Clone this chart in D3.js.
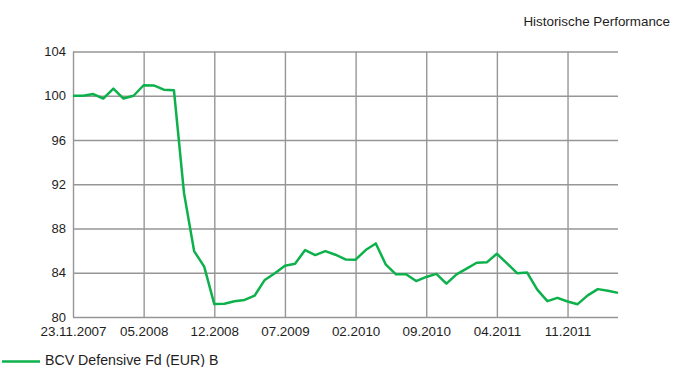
<!DOCTYPE html>
<html>
<head>
<meta charset="utf-8">
<script src="https://cdn.jsdelivr.net/npm/d3@7"></script>
<style>
  html, body { margin: 0; padding: 0; background: #fff; }
  svg { display: block; font-family: "Liberation Sans", Arial, sans-serif; }
</style>
</head>
<body>
<svg id="chart" width="681" height="367"></svg>
<script>
// Month-end observation dates (first point is the launch date)
const dates = [
  "23.11.2007", "11.2007", "12.2007", "01.2008", "02.2008", "03.2008", "04.2008",
  "05.2008", "06.2008", "07.2008", "08.2008", "09.2008", "10.2008", "11.2008",
  "12.2008", "01.2009", "02.2009", "03.2009", "04.2009", "05.2009", "06.2009",
  "07.2009", "08.2009", "09.2009", "10.2009", "11.2009", "12.2009", "01.2010",
  "02.2010", "03.2010", "04.2010", "05.2010", "06.2010", "07.2010", "08.2010",
  "09.2010", "10.2010", "11.2010", "12.2010", "01.2011", "02.2011", "03.2011",
  "04.2011", "05.2011", "06.2011", "07.2011", "08.2011", "09.2011", "10.2011",
  "11.2011", "12.2011", "01.2012", "02.2012", "03.2012", "04.2012"
];

// Indexed performance (start = 100)
const performance = [
  100.0, 100.0, 100.15, 99.75, 100.65, 99.75, 100.0,
  100.95, 100.93, 100.55, 100.5, 91.2, 85.96, 84.55,
  81.17, 81.2, 81.42, 81.54, 81.93, 83.35, 83.95,
  84.64, 84.82, 86.05, 85.6, 85.96, 85.63, 85.2,
  85.18, 86.05, 86.65, 84.73, 83.86, 83.86, 83.25,
  83.62, 83.9, 83.02, 83.86, 84.37, 84.9, 84.94,
  85.72, 84.85, 83.96, 84.02, 82.47, 81.43, 81.73,
  81.4, 81.16, 81.95, 82.52, 82.38, 82.18
];

const yTicks = [80, 84, 88, 92, 96, 100, 104];
const xTickLabels = ["23.11.2007", "05.2008", "12.2008", "07.2009", "02.2010", "09.2010", "04.2011", "11.2011"];
const seriesName = "BCV Defensive Fd (EUR) B";
const chartTitle = "Historische Performance";

const svg = d3.select("#chart");
const lineColor = "#0db14b";
const gridColor = "#969696";

const plotLeft = 73, plotRight = 618, plotTop = 51.5, plotBottom = 317;

const x = d3.scalePoint().domain(dates).range([plotLeft, plotRight]);
const y = d3.scaleLinear().domain([80, 104]).range([plotBottom, plotTop]);

// Horizontal grid + y labels
const yAxis = d3.axisLeft(y).tickValues(yTicks).tickSize(-(plotRight - plotLeft)).tickPadding(7);
const gy = svg.append("g").attr("transform", `translate(${plotLeft},0)`).call(yAxis);
gy.select(".domain").remove();
gy.selectAll(".tick line").attr("stroke", gridColor).attr("stroke-width", 1.4);
gy.selectAll(".tick text")
  .attr("fill", "#1e1e1e").style("font-size", "13px")
  .attr("x", -7);

// Vertical grid + x labels
const xAxis = d3.axisBottom(x)
  .tickValues(xTickLabels)
  .tickSize(-(plotBottom - plotTop))
  .tickPadding(7);
const gx = svg.append("g").attr("transform", `translate(0,${plotBottom})`).call(xAxis);
gx.select(".domain").remove();
gx.selectAll(".tick line").attr("stroke", gridColor).attr("stroke-width", 1.4);
gx.selectAll(".tick text")
  .attr("fill", "#1e1e1e").style("font-size", "13.4px")
  .attr("y", 9);

// Performance line
const line = d3.line()
  .x((d, i) => x(dates[i]))
  .y(d => y(d));

svg.append("path")
  .datum(performance)
  .attr("fill", "none")
  .attr("stroke", lineColor)
  .attr("stroke-width", 2.5)
  .attr("stroke-linejoin", "round")
  .attr("d", line);

// Title
svg.append("text")
  .attr("x", 670).attr("y", 26)
  .attr("text-anchor", "end")
  .attr("fill", "#1e1e1e")
  .style("font-size", "13.4px")
  .text(chartTitle);

// Legend
svg.append("line")
  .attr("x1", 2).attr("x2", 40)
  .attr("y1", 361.5).attr("y2", 361.5)
  .attr("stroke", lineColor).attr("stroke-width", 2.5);
svg.append("text")
  .attr("x", 45).attr("y", 365)
  .attr("fill", "#1e1e1e")
  .style("font-size", "14.2px")
  .text(seriesName);
</script>
</body>
</html>
